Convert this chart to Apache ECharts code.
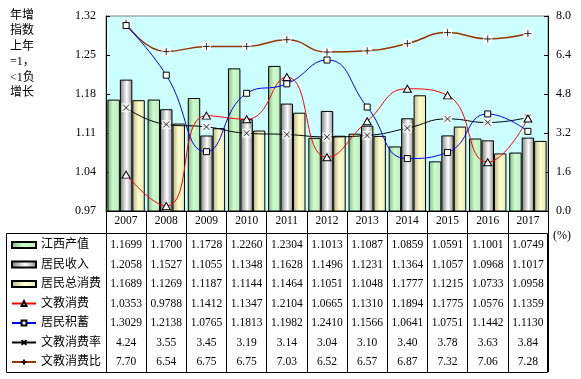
<!DOCTYPE html>
<html><head><meta charset="utf-8">
<script src="https://cdn.jsdelivr.net/npm/echarts@6/dist/echarts.min.js"></script>
<style>html,body{margin:0;padding:0;background:#fff}#c{width:581px;height:379px}</style>
</head><body><div id="c"></div>
<script>
// ---- data ----
const years = ['2007','2008','2009','2010','2011','2012','2013','2014','2015','2016','2017'];
const gdp         = [1.1699,1.1700,1.1728,1.2260,1.2304,1.1013,1.1087,1.0859,1.0591,1.1001,1.0749];
const income      = [1.2058,1.1527,1.1055,1.1348,1.1628,1.1496,1.1231,1.1364,1.1057,1.0968,1.1017];
const consumption = [1.1689,1.1269,1.1187,1.1144,1.1464,1.1051,1.1048,1.1777,1.1215,1.0733,1.0958];
const eduSpend    = [1.0353,0.9788,1.1412,1.1347,1.2104,1.0665,1.1310,1.1894,1.1775,1.0576,1.1359];
const savings     = [1.3029,1.2138,1.0765,1.1813,1.1982,1.2410,1.1566,1.0641,1.0751,1.1442,1.1130];
const eduRate     = [4.24,3.55,3.45,3.19,3.14,3.04,3.10,3.40,3.78,3.63,3.84];
const eduRatio    = [7.70,6.54,6.75,6.75,7.03,6.52,6.57,6.87,7.32,7.06,7.28];
const leftTicks   = [0.97,1.04,1.11,1.18,1.25,1.32];
const rightMin = 0, rightMax = 8, rightStep = 1.6;
const names = ['江西产值','居民收入','居民总消费','文教消费','居民积蓄','文教消费率','文教消费比'];
const yTitle = '年增\n指数\n上年\n=1，\n<1负\n增长';

// ---- styling / layout ----
const SERIF = "'Liberation Serif','Noto Sans CJK SC',serif";
const GL = 106, GR = 548, GT = 16, GB = 211;
const tableRows = [
  {v: gdp, d: 4}, {v: income, d: 4}, {v: consumption, d: 4},
  {v: eduSpend, d: 4}, {v: savings, d: 4}, {v: eduRate, d: 2}, {v: eduRatio, d: 2}
];
const rowMargins = [27, 46.5, 66, 85.5, 105, 124.5, 144];
const CROSS = 'path://M0,0L10,10M10,0L0,10';
const PLUS = 'path://M5,0L5,10M0,5L10,5';

function grad(stops) {
  return {type:'linear', x:0, y:0, x2:1, y2:0,
    colorStops: stops.map(s => ({offset:s[0], color:s[1]}))};
}
const greenG  = grad([[0,'#86B686'],[0.45,'#CCFCCC'],[1,'#BDEDBD']]);
const grayG   = grad([[0,'#7A7A7A'],[0.55,'#FFFFFF'],[1,'#8C8C8C']]);
const yellowG = grad([[0,'#B4B48A'],[0.5,'#FFFFCC'],[1,'#EAEABA']]);

const chart = echarts.init(document.getElementById('c'), null, {renderer:'canvas'});

const tableAxes = tableRows.map((r, k) => ({
  type:'category', data: years, gridIndex:0, position:'bottom',
  axisLine:{show:false}, axisTick:{show:false}, splitLine:{show:false},
  axisLabel:{interval:0, margin: rowMargins[k], fontSize:11.5, lineHeight:14,
    fontFamily:SERIF, color:'#000',
    formatter:(val, i) => r.v[i].toFixed(r.d)}
}));

const barBase = {type:'bar', xAxisIndex:0, yAxisIndex:0, barGap:'0%', barCategoryGap:'7%'};
const markStyle = {color:'#000', borderColor:'#000', borderWidth:0.9};
function markerSeries(data, sym, size) {
  return [
    {type:'scatter', name:'_box', yAxisIndex:1, data:data, symbol:'rect', symbolSize:9,
      z:3, silent:true, itemStyle:{color:'#fff', borderWidth:0}},
    {type:'scatter', name:'_mark', yAxisIndex:1, data:data, symbol:sym, symbolSize:size,
      z:4, silent:true, itemStyle:markStyle}
  ];
}

const option = {
  animation:false,
  backgroundColor:'#fff',
  grid:{left:GL, right:581-GR, top:GT, bottom:379-GB, show:true,
    backgroundColor:'#CCFFFF', borderColor:'#808080', borderWidth:1,
    containLabel:false, outerBoundsMode:'none'},
  legend:{orient:'vertical', left:11, top:235.25, padding:0, itemGap:0,
    itemWidth:24, itemHeight:6, selectedMode:false,
    data:names.map((n, i) => i < 3 ? {name:n, icon:'rect'} : {name:n}),
    textStyle:{fontSize:12, lineHeight:19.5, fontFamily:SERIF, color:'#000'}},
  xAxis:[{
    type:'category', data: years, gridIndex:0, position:'bottom', boundaryGap:true,
    axisLine:{show:true, lineStyle:{color:'#000', width:1}},
    axisTick:{show:true, length:161, alignWithLabel:false, lineStyle:{color:'#000'}},
    splitLine:{show:false},
    axisLabel:{interval:0, margin:3, fontSize:11.5, lineHeight:14, fontFamily:SERIF, color:'#000'}
  }].concat(tableAxes),
  yAxis:[{
    type:'value', position:'left', min:leftTicks[0], max:leftTicks[leftTicks.length-1],
    axisLine:{show:true, lineStyle:{color:'#000'}},
    axisTick:{show:true, inside:true, length:4, customValues:leftTicks, lineStyle:{color:'#000'}},
    axisLabel:{customValues:leftTicks, margin:10, fontSize:12, fontFamily:SERIF, color:'#000',
      formatter:v => v.toFixed(2)},
    splitLine:{show:false}
  },{
    type:'value', position:'right', min:rightMin, max:rightMax, interval:rightStep,
    axisLine:{show:true, lineStyle:{color:'#000'}},
    axisTick:{show:true, inside:true, length:4, lineStyle:{color:'#000'}},
    axisLabel:{margin:8, fontSize:12, fontFamily:SERIF, color:'#000',
      formatter:v => v.toFixed(1)},
    splitLine:{show:false}
  }],
  series:[
    Object.assign({}, barBase, {name:names[0], data:gdp,
      itemStyle:{color:greenG, borderColor:'#000', borderWidth:1}}),
    Object.assign({}, barBase, {name:names[1], data:income,
      itemStyle:{color:grayG, borderColor:'#000', borderWidth:1}}),
    Object.assign({}, barBase, {name:names[2], data:consumption,
      itemStyle:{color:yellowG, borderColor:'#000', borderWidth:1}}),
    {type:'line', name:names[3], yAxisIndex:0, data:eduSpend, smooth:0.5,
      symbol:'triangle', symbolSize:[8,7], showAllSymbol:true, z:5,
      lineStyle:{color:'#FF0000', width:1},
      itemStyle:{color:'#fff', borderColor:'#000', borderWidth:1}},
    {type:'line', name:names[4], yAxisIndex:0, data:savings, smooth:0.5,
      symbol:'rect', symbolSize:6, showAllSymbol:true, z:5,
      lineStyle:{color:'#0000FF', width:1},
      itemStyle:{color:'#fff', borderColor:'#000', borderWidth:1}},
    {type:'line', name:names[5], yAxisIndex:1, data:eduRate, smooth:0.5,
      symbol:CROSS, symbolSize:6, showAllSymbol:true, z:2,
      lineStyle:{color:'#000', width:1}, itemStyle:markStyle},
    {type:'line', name:names[6], yAxisIndex:1, data:eduRatio, smooth:0.5,
      symbol:PLUS, symbolSize:7, showAllSymbol:true, z:2,
      lineStyle:{color:'#993300', width:1.5}, itemStyle:markStyle}
  ].concat(markerSeries(eduRate, CROSS, 6), markerSeries(eduRatio, PLUS, 7)),
  graphic:[
    {type:'text', left:10, top:8, silent:true,
      style:{text:yTitle, fontSize:12, lineHeight:15.5, fontFamily:SERIF, fill:'#000'}},
    {type:'text', left:553, top:230, silent:true,
      style:{text:'(%)', fontSize:12, fontFamily:SERIF, fill:'#000'}},
    {type:'rect', silent:true, shape:{x:6.5, y:233.5, width:541, height:139},
      style:{fill:null, stroke:'#000', lineWidth:1}}
  ]
};
chart.setOption(option);
</script>
</body></html>
